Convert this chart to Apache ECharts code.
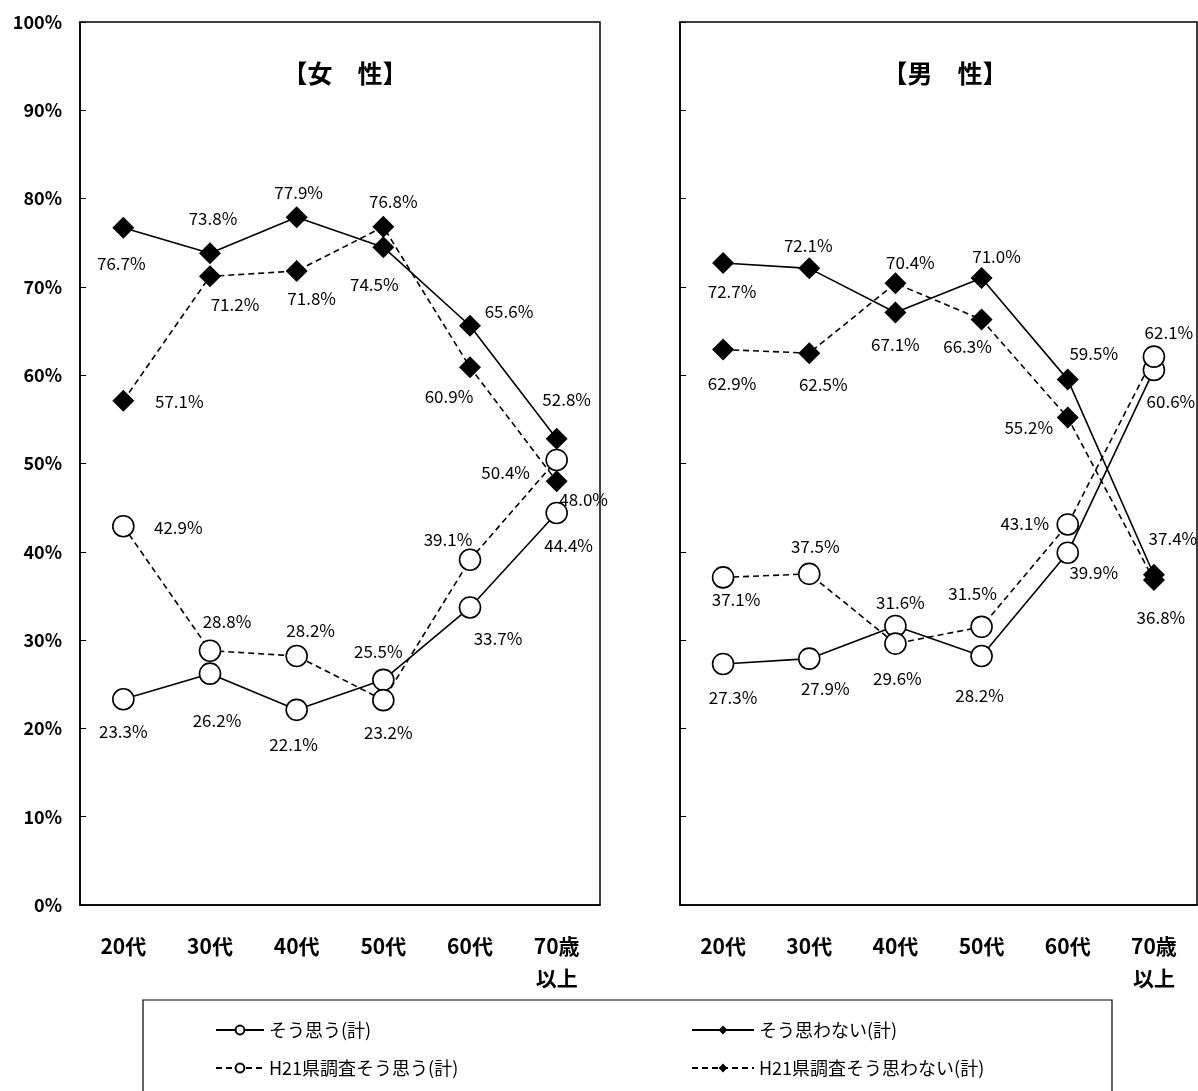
<!DOCTYPE html>
<html><head><meta charset="utf-8">
<script src="https://cdn.jsdelivr.net/npm/echarts@6/dist/echarts.min.js"></script>
<style>html,body{margin:0;padding:0;background:#fff}#c{width:1198px;height:1091px}</style>
</head><body><div id="c"></div>
<script>
// ---- data ----
const categories = ['20代', '30代', '40代', '50代', '60代', '70歳\n以上'];
const seriesNames = ['そう思う(計)', 'そう思わない(計)', 'H21県調査そう思う(計)', 'H21県調査そう思わない(計)'];
const panelTitles = ['【女　性】', '【男　性】'];

const femaleAgree       = [23.3, 26.2, 22.1, 25.5, 33.7, 44.4];
const femaleDisagree    = [76.7, 73.8, 77.9, 74.5, 65.6, 52.8];
const femaleAgreeH21    = [42.9, 28.8, 28.2, 23.2, 39.1, 50.4];
const femaleDisagreeH21 = [57.1, 71.2, 71.8, 76.8, 60.9, 48.0];

const maleAgree       = [27.3, 27.9, 31.6, 28.2, 39.9, 60.6];
const maleDisagree    = [72.7, 72.1, 67.1, 71.0, 59.5, 37.4];
const maleAgreeH21    = [37.1, 37.5, 29.6, 31.5, 43.1, 62.1];
const maleDisagreeH21 = [62.9, 62.5, 70.4, 66.3, 55.2, 36.8];

// ---- label placement (offset of label centre from marker) ----
const offFA  = [[0,32],[7,47],[-3,35],[-5,-28],[28,31],[12,33]];
const offFD  = [[-2,36],[3,-35],[2,-25],[-9,37],[39,-14],[10,-39]];
const offFAH = [[55,1],[17,-29],[14,-25],[5,32],[-22,-20],[-51,13]];
const offFDH = [[56,1],[25,28],[15,28],[10,-25],[-21,29],[27,18]];
const offMA  = [[10,34],[16,30],[5,-23],[-2,40],[26,20],[17,32]];
const offMD  = [[9,28],[-1,-23],[0,32],[15,-22],[26,-26],[19,-36]];
const offMAH = [[13,22],[6,-27],[2,35],[-9,-33],[-43,-1],[15,-24]];
const offMDH = [[9,34],[14,31],[15,-21],[-14,27],[-39,10],[7,37]];

const FONT = '"Noto Sans CJK JP", "DejaVu Sans", sans-serif';

function mk(name, values, offs, gi, dashed, diamond) {
  return {
    name: name, type: 'line', xAxisIndex: gi, yAxisIndex: gi,
    symbol: diamond ? 'diamond' : 'circle',
    symbolSize: diamond ? 22 : 21,
    lineStyle: { color: '#000', width: 1.6, type: dashed ? [6, 4] : 'solid' },
    itemStyle: diamond ? { color: '#000', borderColor: '#000', borderWidth: 0 }
                       : { color: '#fff', borderColor: '#000', borderWidth: 1.6 },
    z: diamond ? 3 : 4,
    label: {
      show: true, position: 'inside', color: '#000', fontSize: 17, fontFamily: FONT,
      textBorderWidth: 0,
      formatter: p => p.value.toFixed(1) + '%'
    },
    emphasis: { disabled: true },
    data: values.map((v, i) => ({ value: v, label: { offset: offs[i] } }))
  };
}

function xAx(gi) {
  return {
    type: 'category', gridIndex: gi, data: categories, boundaryGap: true,
    axisLine: { lineStyle: { color: '#000', width: 1.5 } },
    axisTick: { inside: true, length: 6, lineStyle: { color: '#000' } },
    axisLabel: { color: '#000', fontSize: 21, fontWeight: 'bold', fontFamily: FONT,
                 margin: 25, lineHeight: 32, interval: 0 }
  };
}
function yAx(gi, showLabels) {
  return {
    type: 'value', gridIndex: gi, min: 0, max: 100, interval: 10,
    axisLine: { show: true, lineStyle: { color: '#000', width: 1.5 } },
    axisTick: { show: true, inside: true, length: 6, lineStyle: { color: '#000' } },
    splitLine: { show: false },
    axisLabel: { show: showLabels, color: '#000', fontSize: 18, fontWeight: 'bold',
                 fontFamily: FONT, margin: 18, formatter: '{value}%' }
  };
}

const chart = echarts.init(document.getElementById('c'), null, { renderer: 'canvas' });
chart.setOption({
  backgroundColor: '#fff',
  animation: false,
  title: [
    { text: panelTitles[0], left: 340, top: 56, textAlign: 'center',
      textStyle: { fontSize: 25, fontWeight: 'bold', color: '#000', fontFamily: FONT } },
    { text: panelTitles[1], left: 940, top: 56, textAlign: 'center',
      textStyle: { fontSize: 25, fontWeight: 'bold', color: '#000', fontFamily: FONT } }
  ],
  grid: [
    { left: 80, top: 22, width: 520, bottom: 186, show: true, borderColor: '#000', borderWidth: 1.5, backgroundColor: 'transparent' },
    { left: 680, top: 22, width: 517, bottom: 186, show: true, borderColor: '#000', borderWidth: 1.5, backgroundColor: 'transparent' }
  ],
  xAxis: [xAx(0), xAx(1)],
  yAxis: [yAx(0, true), yAx(1, false)],
  legend: [
    { data: [seriesNames[0], seriesNames[2]], orient: 'vertical', left: 210, top: 1016,
      itemGap: 20, itemWidth: 48, itemHeight: 11,
      textStyle: { fontSize: 18, color: '#000', fontFamily: FONT } },
    { data: [seriesNames[1], seriesNames[3]], orient: 'vertical', left: 686, top: 1016,
      itemGap: 20, itemWidth: 62, itemHeight: 11,
      textStyle: { fontSize: 18, color: '#000', fontFamily: FONT } }
  ],
  graphic: [
    { type: 'rect', shape: { x: 143, y: 1000, width: 969, height: 100 },
      style: { fill: 'none', stroke: '#000', lineWidth: 1.2 }, silent: true }
  ],
  series: [
    mk(seriesNames[0], femaleAgree, offFA, 0, false, false),
    mk(seriesNames[1], femaleDisagree, offFD, 0, false, true),
    mk(seriesNames[2], femaleAgreeH21, offFAH, 0, true, false),
    mk(seriesNames[3], femaleDisagreeH21, offFDH, 0, true, true),
    mk(seriesNames[0], maleAgree, offMA, 1, false, false),
    mk(seriesNames[1], maleDisagree, offMD, 1, false, true),
    mk(seriesNames[2], maleAgreeH21, offMAH, 1, true, false),
    mk(seriesNames[3], maleDisagreeH21, offMDH, 1, true, true)
  ]
});
</script>
</body></html>
